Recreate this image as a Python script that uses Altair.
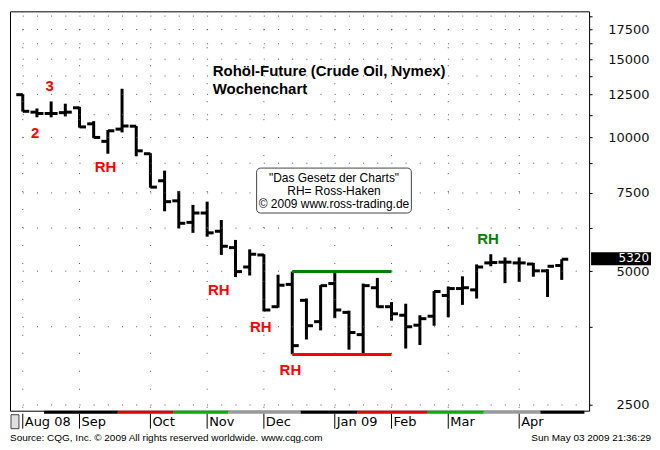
import altair as alt
import pandas as pd

# ---------------- data ----------------
weeks = ["2008-08-04", "2008-08-11", "2008-08-18", "2008-08-25",
         "2008-09-01", "2008-09-08", "2008-09-15", "2008-09-22", "2008-09-29",
         "2008-10-06", "2008-10-13", "2008-10-20", "2008-10-27",
         "2008-11-03", "2008-11-10", "2008-11-17", "2008-11-24",
         "2008-12-01", "2008-12-08", "2008-12-15", "2008-12-22", "2008-12-29",
         "2009-01-05", "2009-01-12", "2009-01-19", "2009-01-26",
         "2009-02-02", "2009-02-09", "2009-02-16", "2009-02-23",
         "2009-03-02", "2009-03-09", "2009-03-16", "2009-03-23", "2009-03-30",
         "2009-04-06", "2009-04-13", "2009-04-20", "2009-04-27"]
opens = [12480, 11400, 11320, 11370, 11660, 10730, 9800, 10440, 10600,
         9190, 7990, 7200, 6440, 6760, 6150, 5650, 5110, 5440, 4160,
         4670, 4300, 3850, 4690, 4040, 3600, 4590, 4160, 3980, 3780,
         3960, 4410, 4570, 4540, 5220, 5240, 5220, 5190, 5010, 5150]
highs = [12520, 11620, 12050, 11910, 11720, 10880, 10390, 12870, 10610,
         9215, 8420, 7570, 7050, 7170, 6520, 5880, 5600, 5460, 4910,
         4990, 4340, 4650, 5030, 4075, 4690, 4830, 4260, 4225, 3980,
         4510, 4620, 4870, 5180, 5460, 5370, 5370, 5220, 5050, 5320]
lows = [11430, 11100, 11100, 11150, 10520, 9965, 9190, 10265, 9070,
        7710, 6820, 6240, 6100, 5980, 5440, 4850, 4890, 4060, 4140,
        3250, 3510, 3680, 3920, 3330, 3250, 4140, 3870, 3350, 3410,
        3770, 3940, 4200, 4340, 5130, 4700, 4730, 4860, 4375, 4780]
closes = [11450, 11320, 11320, 11400, 10560, 10000, 10350, 10610, 9330,
          7730, 7170, 6410, 6760, 6100, 5690, 4990, 5460, 4090, 4650,
          3400, 3770, 4640, 4090, 3640, 4640, 4160, 4010, 3750, 3910,
          4500, 4570, 4590, 5110, 5230, 5240, 5220, 5010, 5130, 5320]

grid_levels = [2500, 3750, 5000, 6250, 7500, 8750, 10000, 11250,
               12500, 13750, 15000, 16250, 17500, 18750]
month_names = ["Aug 08", "Sep", "Oct", "Nov", "Dec", "Jan 09", "Feb", "Mar", "Apr"]
month_start = [0, 4, 9, 13, 17, 22, 26, 30, 35]

strip_start = [1.5, 6.7, 10.6, 14.5, 19.6, 23.6, 28.5, 32.5, 36.5]
strip_end = [6.7, 10.6, 14.5, 19.6, 23.6, 28.5, 32.5, 36.5, 39.6]
strip_color = ["#000000", "#e00000", "#00b000", "#9a9a9a", "#000000",
               "#e00000", "#00b000", "#9a9a9a", "#000000"]

ann_text = ["3", "2", "RH", "RH", "RH", "RH", "RH"]
ann_idx = [1.9, 0.88, 5.83, 13.82, 16.78, 18.87, 32.8]
ann_price = [13050, 10215, 8564, 4535, 3739, 3003, 5908]
ann_color = ["#ff0000"] * 6 + ["#008000"]

channel_start = [19, 19]
channel_end = [26, 26]
channel_price = [4990, 3246]
channel_color = ["#008000", "#ff0000"]

last_price = [5320]

title_lines = ["Rohöl-Future (Crude Oil, Nymex)", "Wochenchart"]
box_lines = ['"Das Gesetz der Charts"', "RH= Ross-Haken", "© 2009 www.ross-trading.de"]
source_left = "Source: CQG, Inc. © 2009 All rights reserved worldwide. www.cqg.com"
source_right = "Sun May 03 2009 21:36:29"

# ---------------- layout ----------------
W, H = 580, 400
xs = alt.Scale(domain=[-0.9, 39.93], nice=False, zero=False)
ys = alt.Scale(type="log", domain=[2427, 19221], nice=False)

yaxis = alt.Axis(orient="right", values=grid_levels, format="d",
                 labelExpr="datum.value % 2500 == 0 ? datum.label : ''",
                 tickSize=3, tickColor="black", labelPadding=57, labelAlign="right",
                 labelFont="DejaVu Sans", labelFontSize=13, labelColor="#111111",
                 domain=False, grid=False, title=None, labelOverlap=False)

def X(field):
    return alt.X(field, scale=xs, axis=None)

def Y(field):
    return alt.Y(field, scale=ys, axis=yaxis)

bars = pd.DataFrame({"week": weeks, "idx": list(range(len(weeks))),
                     "open": opens, "high": highs, "low": lows, "close": closes})

one = pd.DataFrame({"k": [0]})


def text_layer(txt, x, y, **style):
    return alt.Chart(pd.DataFrame({"t": [txt]})).mark_text(**style).encode(
        x=alt.value(x), y=alt.value(y), text="t:N")


# grid
hgrid = alt.Chart(pd.DataFrame({"p": grid_levels})).mark_rule(
    color="#555555", strokeWidth=1, strokeDash=[1, 13.2], strokeDashOffset=1.4
).encode(y=Y("p:Q"), x=alt.value(0), x2=alt.value(W))

vgrid = alt.Chart(pd.DataFrame({"m": month_start})).mark_rule(
    color="#555555", strokeWidth=1, strokeDash=[1, 17]
).encode(x=X("m:Q"), y=alt.value(0), y2=alt.value(H))

hl = alt.Chart(bars).mark_rule(color="black", strokeWidth=3).encode(
    x=X("idx:Q"), y=Y("low:Q"), y2="high:Q")

op = alt.Chart(bars).mark_rule(color="black", strokeWidth=3, xOffset=-6.5, x2Offset=0).encode(
    x=X("idx:Q"), x2="idx:Q", y=Y("open:Q"))

cl = alt.Chart(bars).mark_rule(color="black", strokeWidth=3, xOffset=0, x2Offset=6.5).encode(
    x=X("idx:Q"), x2="idx:Q", y=Y("close:Q"))

chan = alt.Chart(pd.DataFrame({"s": channel_start, "e": channel_end,
                               "p": channel_price, "c": channel_color})).mark_rule(
    strokeWidth=3).encode(
    x=X("s:Q"), x2="e:Q", y=Y("p:Q"), color=alt.Color("c:N", scale=None))

ann = alt.Chart(pd.DataFrame({"t": ann_text, "i": ann_idx, "p": ann_price,
                              "c": ann_color})).mark_text(
    font="Liberation Sans", fontSize=15, fontWeight="bold",
    align="center", baseline="middle").encode(
    x=X("i:Q"), y=Y("p:Q"), text="t:N", color=alt.Color("c:N", scale=None))

tstyle = dict(font="Liberation Sans", fontSize=15, fontWeight="bold", align="left",
              baseline="middle", color="black")
title1 = text_layer(title_lines[0], 203, 60, **tstyle)
title2 = text_layer(title_lines[1], 203, 77.5, **tstyle)

box = alt.Chart(one).mark_rect(fill="white", stroke="#444444", strokeWidth=1,
                               cornerRadius=4).encode(
    x=alt.value(247), x2=alt.value(402), y=alt.value(157), y2=alt.value(202))

bstyle = dict(font="Liberation Sans", fontSize=12, align="center", baseline="middle",
              color="black")
bt1 = text_layer(box_lines[0], 324.5, 166.5, **bstyle)
bt2 = text_layer(box_lines[1], 324.5, 179.5, **bstyle)
bt3 = text_layer(box_lines[2], 324.5, 192.5, **bstyle)

# last price marker on the axis
lp = alt.Chart(pd.DataFrame({"p": last_price})).mark_rect(
    color="black", yOffset=-7, y2Offset=6).encode(
    x=alt.value(W + 2), x2=alt.value(W + 62), y=Y("p:Q"), y2="p:Q")
lpt = alt.Chart(pd.DataFrame({"p": last_price})).mark_text(
    font="DejaVu Sans", fontSize=12, color="white", align="right",
    baseline="middle", dy=-1).encode(
    x=alt.value(W + 60), y=Y("p:Q"), text=alt.Text("p:Q", format="d"))

# bottom strip / month row
strip = alt.Chart(pd.DataFrame({"s": strip_start, "e": strip_end,
                                "c": strip_color})).mark_rect().encode(
    x=X("s:Q"), x2="e:Q", y=alt.value(H), y2=alt.value(H + 3),
    color=alt.Color("c:N", scale=None))

seps = alt.Chart(pd.DataFrame({"m": month_start})).mark_rule(
    color="black", strokeWidth=1).encode(
    x=X("m:Q"), y=alt.value(H + 3), y2=alt.value(H + 18))

mlab = alt.Chart(pd.DataFrame({"m": month_start, "t": month_names})).mark_text(
    font="DejaVu Sans", fontSize=13, align="left", baseline="middle", dx=2,
    color="black").encode(
    x=X("m:Q"), y=alt.value(H + 11), text="t:N")

thumb = alt.Chart(one).mark_rect(fill="#e0e0e0", stroke="#444444", strokeWidth=1).encode(
    x=alt.value(1), x2=alt.value(9), y=alt.value(H + 4), y2=alt.value(H + 18))

sstyle = dict(font="Liberation Sans", fontSize=10, baseline="middle", color="black")
src = text_layer(source_left, 0, H + 27, align="left", **sstyle)
src2 = text_layer(source_right, W + 62, H + 27, align="right", **sstyle)

chart = alt.layer(hl, hgrid, vgrid, box, bt1, bt2, bt3, title1, title2, chan, op, cl, ann,
                  lp, lpt, strip, seps, mlab, thumb, src, src2).properties(
    width=W, height=H,
    padding={"left": 1, "top": 1, "right": 1, "bottom": 1},
    background="white",
).configure_view(stroke="black", strokeWidth=1)

chart.save("out.html", embed_options={"renderer": "svg", "actions": False})
